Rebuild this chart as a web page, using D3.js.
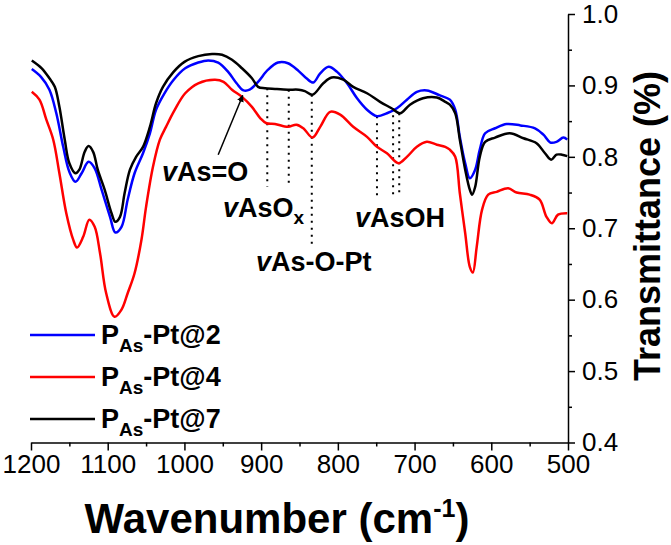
<!DOCTYPE html>
<html>
<head>
<meta charset="utf-8">
<script src="https://d3js.org/d3.v7.min.js"></script>
<style>
  body { margin: 0; background: #fff; }
  text { font-family: Arial, "Liberation Sans", sans-serif; }
</style>
</head>
<body>
<svg id="vis"></svg>
<script>
  var visWidth = 671
  var visHeight = 545

  // spectra: [wavenumber, transmittance]
  var pt2 = [[1199,0.923],[1187,0.912],[1176,0.894],[1167,0.861],[1158,0.814],[1150,0.779],[1142,0.765],[1134,0.777],[1125,0.793],[1117,0.784],[1108,0.754],[1097,0.716],[1090,0.694],[1082,0.702],[1074,0.740],[1065,0.777],[1054,0.805],[1045,0.833],[1037,0.866],[1026,0.889],[1014,0.908],[999,0.924],[982,0.932],[969,0.935],[956,0.932],[943,0.919],[932,0.903],[923,0.893],[915,0.894],[904,0.905],[891,0.922],[878,0.932],[865,0.931],[851,0.920],[841,0.910],[832,0.904],[823,0.917],[812,0.926],[801,0.919],[788,0.903],[775,0.882],[762,0.866],[749,0.857],[736,0.861],[723,0.868],[710,0.880],[697,0.891],[684,0.893],[667,0.886],[654,0.880],[647,0.866],[641,0.828],[634,0.791],[628,0.770],[621,0.782],[615,0.810],[608,0.833],[595,0.840],[580,0.846],[562,0.844],[543,0.840],[532,0.831],[523,0.820],[515,0.821],[506,0.827],[501,0.824]]

  var pt4 = [[1199,0.891],[1189,0.880],[1180,0.852],[1171,0.824],[1163,0.777],[1154,0.721],[1145,0.684],[1140,0.673],[1132,0.688],[1124,0.712],[1117,0.702],[1110,0.665],[1102,0.609],[1091,0.576],[1082,0.586],[1074,0.609],[1065,0.637],[1056,0.684],[1050,0.730],[1041,0.786],[1032,0.824],[1024,0.842],[1013,0.865],[999,0.889],[982,0.903],[960,0.908],[949,0.905],[938,0.894],[925,0.884],[912,0.870],[901,0.854],[893,0.847],[882,0.846],[865,0.842],[854,0.845],[845,0.840],[833,0.827],[823,0.842],[810,0.863],[797,0.859],[780,0.842],[762,0.828],[749,0.814],[736,0.805],[721,0.791],[710,0.800],[697,0.814],[684,0.821],[671,0.817],[660,0.814],[654,0.810],[647,0.800],[641,0.749],[634,0.693],[628,0.646],[624,0.638],[619,0.674],[612,0.726],[604,0.747],[593,0.751],[578,0.756],[567,0.750],[550,0.747],[537,0.740],[528,0.716],[521,0.707],[513,0.719],[501,0.721]]

  var pt7 = [[1199,0.935],[1186,0.924],[1176,0.910],[1169,0.898],[1163,0.870],[1156,0.824],[1150,0.791],[1142,0.777],[1137,0.782],[1130,0.807],[1125,0.815],[1119,0.807],[1113,0.782],[1104,0.754],[1095,0.721],[1090,0.709],[1084,0.716],[1078,0.749],[1071,0.782],[1063,0.800],[1054,0.814],[1045,0.842],[1037,0.875],[1028,0.898],[1015,0.918],[1000,0.933],[982,0.941],[964,0.944],[951,0.943],[938,0.936],[925,0.924],[912,0.910],[904,0.898],[895,0.896],[882,0.895],[865,0.894],[851,0.894],[843,0.892],[833,0.887],[819,0.903],[808,0.911],[793,0.908],[780,0.898],[762,0.889],[745,0.877],[730,0.868],[719,0.861],[706,0.873],[689,0.882],[671,0.883],[660,0.877],[654,0.873],[647,0.861],[641,0.824],[634,0.782],[628,0.754],[625,0.747],[621,0.758],[615,0.800],[608,0.821],[595,0.827],[576,0.833],[558,0.826],[541,0.819],[530,0.805],[522,0.796],[515,0.803],[508,0.803],[501,0.801]]

  var seriesNames = ['2', '4', '7']
  var seriesColors = ['#0000ff', '#ff0000', '#000000']
  var seriesData = [pt2, pt4, pt7]

  var xTicks = [1200, 1100, 1000, 900, 800, 700, 600, 500]
  var xMinor = [1150, 1050, 950, 850, 750, 650, 550]
  var yTicks = [0.4, 0.5, 0.6, 0.7, 0.8, 0.9, 1.0]
  var yMinor = [0.45, 0.55, 0.65, 0.75, 0.85, 0.95]

  // dotted guide lines: [wavenumber, top T, bottom T]
  var guides = [[892,0.896,0.758],[864,0.894,0.758],[834,0.887,0.677],[749,0.857,0.744],[728,0.868,0.744],[720,0.861,0.744]]

  var svg = d3.select('#vis')
    .attr('width', visWidth)
    .attr('height', visHeight)

  var x = d3.scaleLinear().domain([1200, 500]).range([31, 568])
  var y = d3.scaleLinear().domain([0.4, 1.0]).range([442.5, 14])

  svg.append('defs').append('marker')
    .attr('id', 'arrow')
    .attr('viewBox', '0 0 10 10')
    .attr('refX', 9).attr('refY', 5)
    .attr('markerWidth', 7).attr('markerHeight', 7)
    .attr('markerUnits', 'userSpaceOnUse')
    .attr('orient', 'auto')
    .append('path')
    .attr('d', 'M0,0 L10,5 L0,10 z')
    .attr('fill', 'black')

  // dotted guides (behind curves)
  svg.selectAll('line.guide')
    .data(guides)
    .enter().append('line')
    .attr('class', 'guide')
    .attr('x1', d => x(d[0])).attr('x2', d => x(d[0]))
    .attr('y1', d => y(d[1])).attr('y2', d => y(d[2]))
    .attr('stroke', 'black')
    .attr('stroke-width', 2)
    .attr('stroke-dasharray', '2,5')

  var line = d3.line()
    .x(d => x(d[0]))
    .y(d => y(d[1]))
    .curve(d3.curveCatmullRom)

  svg.selectAll('path.spec')
    .data(seriesData)
    .enter().append('path')
    .attr('class', 'spec')
    .attr('d', line)
    .attr('fill', 'none')
    .attr('stroke', (d, i) => seriesColors[i])
    .attr('stroke-width', 2.5)

  // axes
  var xAxis = svg.append('g')
    .attr('transform', 'translate(0,' + y(0.4) + ')')
    .call(d3.axisBottom(x).tickValues(xTicks).tickSize(8).tickSizeOuter(0).tickPadding(4).tickFormat(d3.format('d')))
  var xAxisMinor = svg.append('g')
    .attr('transform', 'translate(0,' + y(0.4) + ')')
    .call(d3.axisBottom(x).tickValues(xMinor).tickSize(4).tickFormat(''))
  xAxisMinor.select('.domain').remove()

  var yAxis = svg.append('g')
    .attr('transform', 'translate(' + x(500) + ',0)')
    .call(d3.axisRight(y).tickValues(yTicks).tickSize(7).tickSizeOuter(0).tickPadding(7).tickFormat(d3.format('.1f')))
  var yAxisMinor = svg.append('g')
    .attr('transform', 'translate(' + x(500) + ',0)')
    .call(d3.axisRight(y).tickValues(yMinor).tickSize(4).tickFormat(''))
  yAxisMinor.select('.domain').remove()

  svg.selectAll('.domain, .tick line')
    .attr('stroke', 'black')
    .attr('stroke-width', 1.5)
  svg.selectAll('.tick text')
    .attr('fill', 'black')
    .style('font-size', '26px')
    .style('font-family', 'Arial, "Liberation Sans", sans-serif')

  // axis titles
  var xTitle = svg.append('text')
    .attr('x', 277).attr('y', 533)
    .attr('text-anchor', 'middle')
    .style('font-size', '42px').style('font-weight', 'bold')
  xTitle.append('tspan').text('Wavenumber (cm')
  xTitle.append('tspan').attr('dy', -16).style('font-size', '25px').text('-1')
  xTitle.append('tspan').attr('dy', 16).text(')')

  svg.append('text')
    .attr('transform', 'translate(660,226) rotate(-90)')
    .attr('text-anchor', 'middle')
    .style('font-size', '36px').style('font-weight', 'bold')
    .text('Transmittance (%)')

  // legend
  var legend = svg.selectAll('g.legend')
    .data(seriesNames)
    .enter().append('g')
    .attr('class', 'legend')
    .attr('transform', (d, i) => 'translate(0,' + (335 + i * 42) + ')')
  legend.append('line')
    .attr('x1', 30).attr('x2', 95)
    .attr('stroke', (d, i) => seriesColors[i])
    .attr('stroke-width', 2.5)
  var legendText = legend.append('text')
    .attr('x', 101).attr('y', 9)
    .style('font-size', '27px').style('font-weight', 'bold')
  legendText.append('tspan').text('P')
  legendText.append('tspan').attr('dy', 8).style('font-size', '19px').text('As')
  legendText.append('tspan').attr('dy', -8).text(d => '-Pt@' + d)

  // band labels
  function bandLabel(px, py, rest, sub) {
    var t = svg.append('text')
      .attr('x', px).attr('y', py)
      .style('font-size', '27px').style('font-weight', 'bold')
    t.append('tspan').style('font-style', 'italic').text('v')
    t.append('tspan').text(rest)
    if (sub) t.append('tspan').attr('dy', 7).style('font-size', '19px').text(sub)
  }
  bandLabel(162, 181, 'As=O')
  bandLabel(223, 217, 'AsO', 'x')
  bandLabel(256, 271, 'As-O-Pt')
  bandLabel(355, 227, 'AsOH')

  // arrow to the As=O band
  svg.append('line')
    .attr('x1', x(956)).attr('y1', y(0.803))
    .attr('x2', x(924)).attr('y2', y(0.886))
    .attr('stroke', 'black')
    .attr('stroke-width', 1.5)
    .attr('marker-end', 'url(#arrow)')
</script>
</body>
</html>
